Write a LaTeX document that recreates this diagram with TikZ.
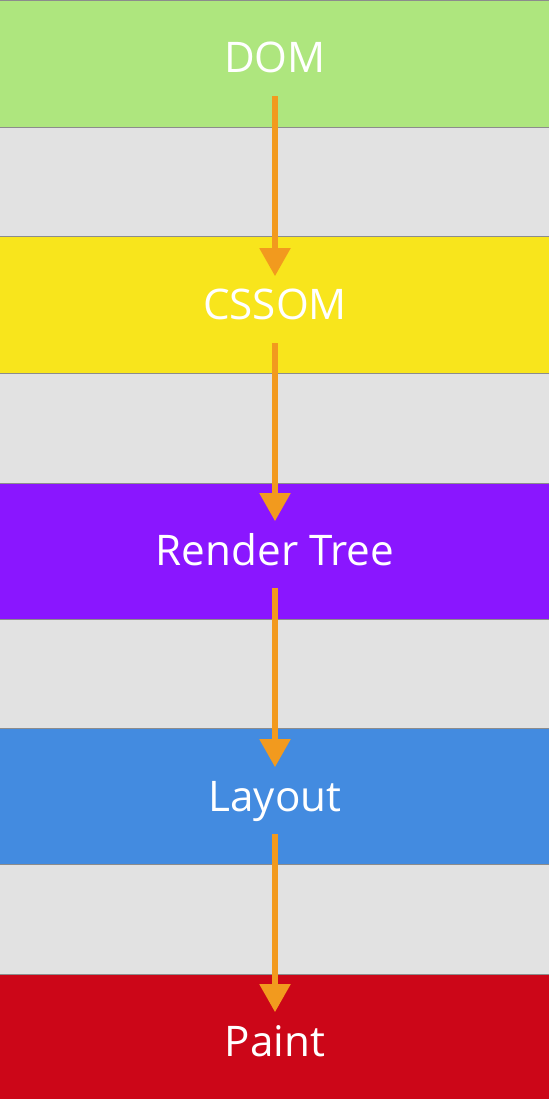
\documentclass[tikz,border=0pt]{standalone}
\usepackage{fontspec}
\setmainfont{Open Sans}
\usepackage{tikz}
\usetikzlibrary{arrows.meta}

\definecolor{domgreen}{HTML}{AEE67E}
\definecolor{bggray}{HTML}{E2E2E2}
\definecolor{cssyellow}{HTML}{F8E51C}
\definecolor{treepurple}{HTML}{8A16FF}
\definecolor{layoutblue}{HTML}{438BE0}
\definecolor{paintred}{HTML}{CC0618}
\definecolor{arrorange}{HTML}{F29A1E}

\begin{document}
\begin{tikzpicture}[
    band/.style={
      draw=black!45, line width=0.4pt, minimum width=11.2cm, inner sep=0pt
    },
    lbl/.style={
      text=white, font=\fontsize{24}{28}\selectfont, inner sep=0pt,
      text height=0.6cm, text depth=0pt, anchor=base
    },
    arr/.style={-{Triangle[length=5.6mm, width=6mm]}, line width=3pt, arrorange,
      shorten <=0.46cm, shorten >=0.27cm},
  ]
    \useasboundingbox (0,0) rectangle (10.98,-21.98);
    \fill[bggray] (0,0) rectangle (10.98,-21.98);
    % bands
    \node[band, fill=domgreen, minimum height=2.54cm] (domband) at (5.49,-1.27) {};
    \node[band, fill=cssyellow, minimum height=2.74cm] (cssband) at (5.49,-6.09) {};
    \node[band, fill=treepurple, minimum height=2.72cm] (treeband) at (5.49,-11.02) {};
    \node[band, fill=layoutblue, minimum height=2.72cm] (layoutband) at (5.49,-15.92) {};
    \node[band, fill=paintred, minimum height=2.54cm] (paintband) at (5.49,-20.75) {};
    % labels
    \node[lbl] (dom) at (5.5,-1.46) {DOM};
    \node[lbl] (cssom) at (5.5,-6.40) {CSSOM};
    \node[lbl] (tree) at (5.5,-11.30) {Render Tree};
    \node[lbl] (layout) at (5.5,-16.22) {Layout};
    \node[lbl] (paint) at (5.5,-21.12) {Paint};
    % flow
    \draw[arr] (dom.south) -- (cssom.north);
    \draw[arr] (cssom.south) -- (tree.north);
    \draw[arr] (tree.south) -- (layout.north);
    \draw[arr] (layout.south) -- (paint.north);
  \end{tikzpicture}
\end{document}
